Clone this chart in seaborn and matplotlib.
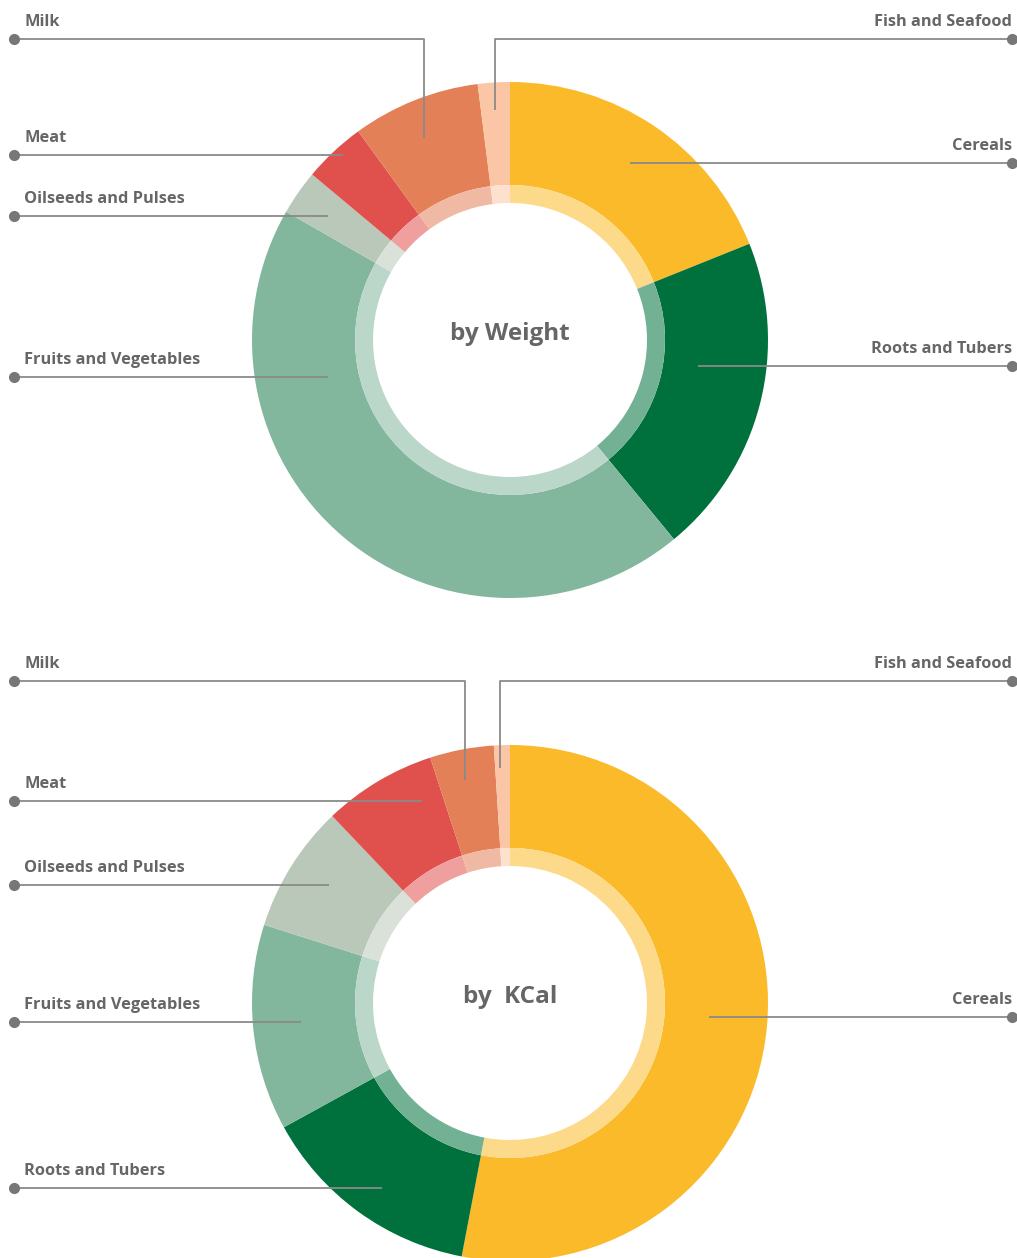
import matplotlib.pyplot as plt
import matplotlib.colors as mcolors
import seaborn as sns

# categories in clockwise order from 12 o'clock
categories = ["Cereals", "Roots and Tubers", "Fruits and Vegetables",
              "Oilseeds and Pulses", "Meat", "Milk", "Fish and Seafood"]
weight_share = [18.9, 20.1, 44.2, 2.8, 3.9, 8.0, 2.0]
kcal_share = [53.0, 14.0, 12.9, 8.0, 7.1, 4.0, 1.0]
colors = ["#FBBA2A", "#00713D", "#82B69D", "#BAC8B9", "#E0514E", "#E38057", "#FBC6A6"]

W, H = 1017, 1258
TEXT = "#666666"
LINE = "#8a8a8a"

# label layout (pixel coords, y measured from top): side, line y, line end x, drop y
weight_labels = {
    "Milk": ("left", 39, 424, 138),
    "Fish and Seafood": ("right", 39, 495, 110),
    "Meat": ("left", 155, 343, None),
    "Oilseeds and Pulses": ("left", 216, 328, None),
    "Fruits and Vegetables": ("left", 377, 328, None),
    "Cereals": ("right", 163, 630, None),
    "Roots and Tubers": ("right", 366, 698, None),
}
kcal_labels = {
    "Milk": ("left", 681, 465, 780),
    "Fish and Seafood": ("right", 681, 500, 768),
    "Meat": ("left", 801, 422, None),
    "Oilseeds and Pulses": ("left", 885, 329, None),
    "Fruits and Vegetables": ("left", 1022, 301, None),
    "Roots and Tubers": ("left", 1188, 382, None),
    "Cereals": ("right", 1017, 709, None),
}

sns.set_style("white")
plt.rcParams['font.family'] = ['Open Sans', 'DejaVu Sans']


def Y(y):
    return H - y


def light(c, a=0.55):
    r, g, b = mcolors.to_rgb(c)
    return (1 - a + a * r, 1 - a + a * g, 1 - a + a * b)


fig = plt.figure(figsize=(W / 100, H / 100), dpi=100)
ax = fig.add_axes([0, 0, 1, 1])


def donut(values, cy, title, labels):
    center = (510, Y(cy))
    ax.pie(values, colors=colors, startangle=90, counterclock=False,
           radius=258, center=center,
           wedgeprops=dict(width=103, linewidth=0, antialiased=True))
    ax.pie(values, colors=[light(c) for c in colors], startangle=90,
           counterclock=False, radius=155, center=center,
           wedgeprops=dict(width=18, linewidth=0, antialiased=True))
    ax.text(center[0], center[1] + 6, title, ha="center", va="center",
            fontsize=17.5, fontweight="bold", color=TEXT)
    for name, (side, ly, xend, drop) in labels.items():
        x0 = 14 if side == "left" else 1012
        xs, ys = [x0, xend], [Y(ly), Y(ly)]
        if drop is not None:
            xs.append(xend)
            ys.append(Y(drop))
        ax.plot(xs, ys, color=LINE, lw=1.3, solid_capstyle="butt", zorder=3)
        ax.plot([x0], [Y(ly)], "o", color="#777777", ms=7, zorder=4)
        if side == "left":
            ax.text(24, Y(ly) + 17, name, ha="left", va="center",
                    fontsize=11.8, fontweight="bold", color=TEXT)
        else:
            ax.text(1012, Y(ly) + 17, name, ha="right", va="center",
                    fontsize=11.8, fontweight="bold", color=TEXT)


donut(weight_share, 340, "by Weight", weight_labels)
donut(kcal_share, 1003, "by  KCal", kcal_labels)

ax.set_xlim(0, W)
ax.set_ylim(0, H)
ax.set_aspect("auto")
ax.axis("off")
fig.savefig("out.png", dpi=100)
